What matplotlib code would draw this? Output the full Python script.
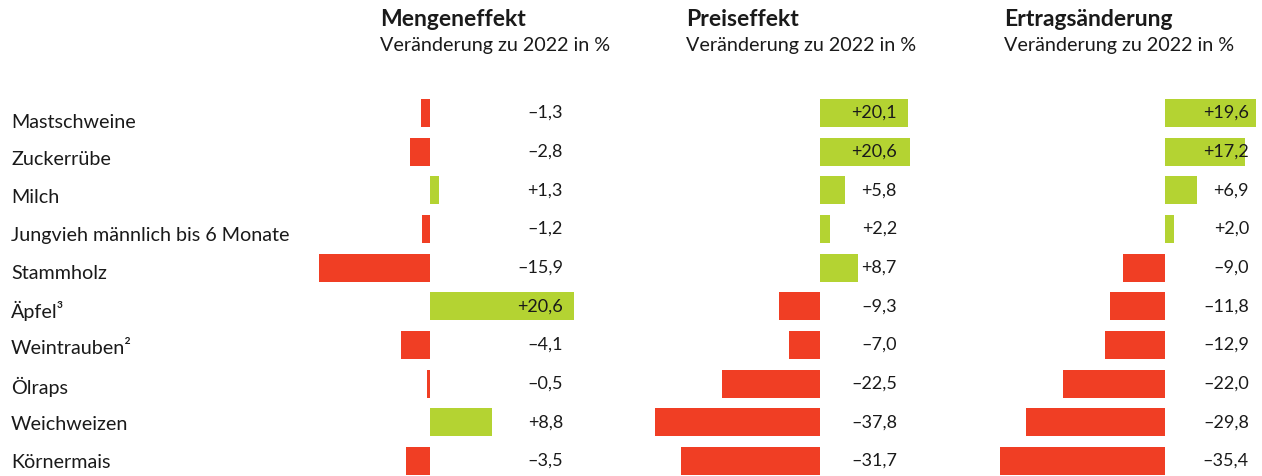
import matplotlib.pyplot as plt
import numpy as np

plt.rcParams['font.family'] = ['Lato', 'DejaVu Sans']

# data
categories = ['Mastschweine', 'Zuckerrübe', 'Milch', 'Jungvieh männlich bis 6 Monate',
              'Stammholz', 'Äpfel³', 'Weintrauben²', 'Ölraps', 'Weichweizen', 'Körnermais']
mengeneffekt = [-1.3, -2.8, 1.3, -1.2, -15.9, 20.6, -4.1, -0.5, 8.8, -3.5]
preiseffekt = [20.1, 20.6, 5.8, 2.2, 8.7, -9.3, -7.0, -22.5, -37.8, -31.7]
ertragsaenderung = [19.6, 17.2, 6.9, 2.0, -9.0, -11.8, -12.9, -22.0, -29.8, -35.4]
titles = ['Mengeneffekt', 'Preiseffekt', 'Ertragsänderung']
subtitle = 'Veränderung zu 2022 in %'

RED = '#F03E24'
GREEN = '#B4D332'
TXT = '#1a1a1a'

W, H = 1262, 476
fig = plt.figure(figsize=(W / 100, H / 100), dpi=100)


def fmt(v):
    s = f'{abs(v):.1f}'.replace('.', ',')
    return ('+' if v > 0 else '\u2013') + s


# panel layout in pixels: (left, right, zero position, px per unit, label right edge, title x)
panels = [
    (300, 620, 430, 7.0, 563, 380),
    (640, 980, 820, 4.37, 897, 686),
    (985, 1262, 1165, 4.65, 1249, 1004),
]
series = [mengeneffekt, preiseffekt, ertragsaenderung]

top_px, bot_px = 85, 476
row0, step = 113, 38.67
y = np.arange(len(categories))
ylim = ((bot_px - row0) / step, (top_px - row0) / step)

for (l, r, z, s, lab, tx), vals, title in zip(panels, series, titles):
    ax = fig.add_axes([l / W, 1 - bot_px / H, (r - l) / W, (bot_px - top_px) / H])
    ax.set_xlim((l - z) / s, (r - z) / s)
    ax.set_ylim(*ylim)
    vals = np.array(vals)
    ax.barh(y, vals, height=0.72, color=np.where(vals > 0, GREEN, RED))
    xl = (lab - z) / s
    for yi, v in zip(y, vals):
        ax.text(xl, yi, fmt(v), ha='right', va='center', fontsize=13, color=TXT)
    ax.axis('off')
    fig.text(tx / W, 1 - 20 / H, title, fontsize=16.5, fontweight='bold',
             ha='left', va='center', color=TXT)
    fig.text(tx / W, 1 - 45 / H, subtitle, fontsize=14.2, ha='left', va='center',
             color=TXT)

for yi, c in zip(y, categories):
    fig.text(11 / W, 1 - (122 + yi * 37.8) / H, c, fontsize=14.2, ha='left',
             va='center', color=TXT)

fig.savefig('out.png', dpi=100)
